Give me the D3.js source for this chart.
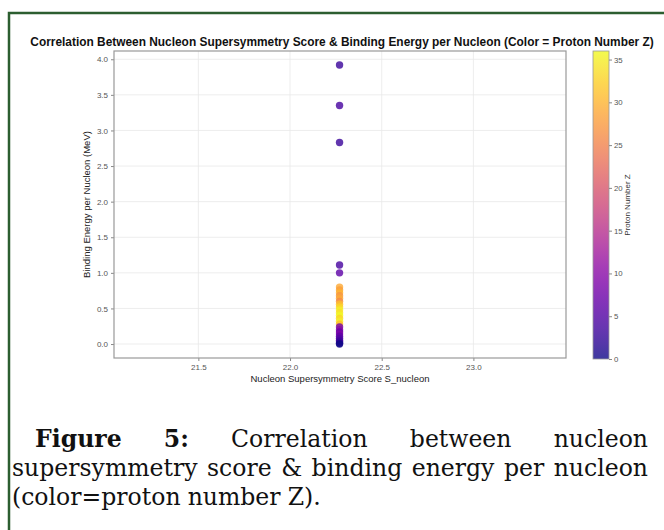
<!DOCTYPE html>
<html>
<head>
<meta charset="utf-8">
<script src="https://cdn.jsdelivr.net/npm/d3@7"></script>
<style>
  body { margin: 0; background: #fff; }
  svg { display: block; }
</style>
</head>
<body>
<div id="chart"></div>
<script>
// Data: one score value, binding energy per nucleon, proton number Z
const score = [22.27, 22.27, 22.27, 22.27, 22.27, 22.27, 22.27, 22.27, 22.27, 22.27,
               22.27, 22.27, 22.27, 22.27, 22.27, 22.27, 22.27, 22.27, 22.27, 22.27,
               22.27, 22.27, 22.27, 22.27, 22.27, 22.27, 22.27, 22.27, 22.27];
const energy = [3.92, 3.35, 2.83, 1.11, 1.00,
                0.80, 0.76, 0.72, 0.68, 0.64, 0.60, 0.56, 0.52, 0.48, 0.44, 0.40, 0.36, 0.32, 0.28,
                0.24, 0.20, 0.17, 0.14, 0.11, 0.08, 0.05, 0.03, 0.01, 0.00];
const protonZ = [3, 4, 3, 4, 6,
                 29, 28, 30, 27, 29, 26, 31, 33, 35, 34, 36, 33, 35, 31,
                 8, 10, 7, 9, 6, 5, 4, 3, 2, 0];
const xTicks = [21.5, 22.0, 22.5, 23.0];
const yTicks = [0, 0.5, 1, 1.5, 2, 2.5, 3, 3.5, 4];
const zTicks = [0, 5, 10, 15, 20, 25, 30, 35];
const captionLines = [
  ["Figure 5:", "Correlation between nucleon"],
  ["", "supersymmetry score & binding energy per nucleon"],
  ["", "(color=proton number Z)."]
];

const width = 664, height = 530;
const plot = { left: 114, right: 566, top: 51, bottom: 358 };
const sans = "Liberation Sans, Arial, sans-serif";
const alpha = 0.8;

const svg = d3.select("#chart").append("svg")
    .attr("width", width)
    .attr("height", height);

// green frame (only top and left edges visible)
svg.append("path")
    .attr("d", "M9,531 L9,13 L665,13")
    .attr("fill", "none")
    .attr("stroke", "#2c5e30")
    .attr("stroke-width", 2.5);

const x = d3.scaleLinear().domain([21.04, 23.505]).range([plot.left, plot.right]);
const y = d3.scaleLinear().domain([-0.196, 4.116]).range([plot.bottom, plot.top]);
const color = d3.scaleSequential(d3.interpolatePlasma).domain([0, 36]);

// title
svg.append("text")
    .attr("x", 342)
    .attr("y", 46)
    .attr("text-anchor", "middle")
    .attr("font-family", sans)
    .attr("font-weight", "bold")
    .attr("font-size", 11.9)
    .attr("fill", "#111")
    .text("Correlation Between Nucleon Supersymmetry Score & Binding Energy per Nucleon (Color = Proton Number Z)");

// grid
const grid = svg.append("g").attr("stroke", "#e9e9e9").attr("stroke-width", 0.8);
grid.selectAll(".gx").data(xTicks).enter().append("line")
    .attr("x1", d => x(d)).attr("x2", d => x(d))
    .attr("y1", plot.top).attr("y2", plot.bottom);
grid.selectAll(".gy").data(yTicks).enter().append("line")
    .attr("x1", plot.left).attr("x2", plot.right)
    .attr("y1", d => y(d)).attr("y2", d => y(d));

// axes
const xAxis = svg.append("g")
    .attr("transform", `translate(0,${plot.bottom})`)
    .call(d3.axisBottom(x).tickValues(xTicks).tickFormat(d3.format(".1f")).tickSize(3).tickPadding(3));
const yAxis = svg.append("g")
    .attr("transform", `translate(${plot.left},0)`)
    .call(d3.axisLeft(y).tickValues(yTicks).tickFormat(d3.format(".1f")).tickSize(3).tickPadding(3));
[xAxis, yAxis].forEach(a => {
  a.select(".domain").remove();
  a.selectAll(".tick line").attr("stroke", "#888");
  a.selectAll(".tick text")
      .attr("font-family", sans)
      .attr("font-size", 8)
      .attr("fill", "#555");
});

// plot border
svg.append("rect")
    .attr("x", plot.left).attr("y", plot.top)
    .attr("width", plot.right - plot.left)
    .attr("height", plot.bottom - plot.top)
    .attr("fill", "none")
    .attr("stroke", "#999")
    .attr("stroke-width", 1.2);

// points
const points = score.map((s, i) => ({ s: s, e: energy[i], z: protonZ[i] }));
svg.append("g").selectAll("circle")
    .data(points)
    .enter()
    .append("circle")
    .attr("cx", d => x(d.s))
    .attr("cy", d => y(d.e))
    .attr("r", 3.7)
    .attr("fill", d => color(d.z))
    .attr("fill-opacity", alpha);

// axis labels
svg.append("text")
    .attr("x", (plot.left + plot.right) / 2)
    .attr("y", 382)
    .attr("text-anchor", "middle")
    .attr("font-family", sans)
    .attr("font-size", 9.5)
    .attr("fill", "#222")
    .text("Nucleon Supersymmetry Score S_nucleon");
svg.append("text")
    .attr("transform", `translate(90,${(plot.top + plot.bottom) / 2}) rotate(-90)`)
    .attr("text-anchor", "middle")
    .attr("font-family", sans)
    .attr("font-size", 9.5)
    .attr("fill", "#222")
    .text("Binding Energy per Nucleon (MeV)");

// colorbar
const cb = { x: 593, w: 16, top: 51, bottom: 359 };
const zScale = d3.scaleLinear().domain([0, 36]).range([cb.bottom, cb.top]);
const defs = svg.append("defs");
const grad = defs.append("linearGradient")
    .attr("id", "cbar")
    .attr("x1", "0").attr("y1", "1").attr("x2", "0").attr("y2", "0");
d3.range(0, 1.0001, 0.05).forEach(t => {
  grad.append("stop").attr("offset", t).attr("stop-color", d3.interpolatePlasma(t));
});
svg.append("rect")
    .attr("x", cb.x).attr("y", cb.top)
    .attr("width", cb.w).attr("height", cb.bottom - cb.top)
    .attr("fill", "url(#cbar)")
    .attr("fill-opacity", alpha);
svg.append("rect")
    .attr("x", cb.x).attr("y", cb.top)
    .attr("width", cb.w).attr("height", cb.bottom - cb.top)
    .attr("fill", "none")
    .attr("stroke", "#999")
    .attr("stroke-width", 0.8);
const zAxis = svg.append("g")
    .attr("transform", `translate(${cb.x + cb.w},0)`)
    .call(d3.axisRight(zScale).tickValues(zTicks).tickSize(3).tickPadding(2));
zAxis.select(".domain").remove();
zAxis.selectAll(".tick line").attr("stroke", "#888");
zAxis.selectAll(".tick text")
    .attr("font-family", sans)
    .attr("font-size", 7.8)
    .attr("fill", "#555");
svg.append("text")
    .attr("transform", `translate(630,${(cb.top + cb.bottom) / 2}) rotate(-90)`)
    .attr("text-anchor", "middle")
    .attr("font-family", sans)
    .attr("font-size", 8)
    .attr("fill", "#333")
    .text("Proton Number Z");

// caption, justified line by line; font size fitted so the second line fills the width
const capFont = "DejaVu Serif, Liberation Serif, serif";
const lineStarts = [35, 12, 12];
const lineBase = [447, 476, 505];
const rightEdge = 648;
const line2 = captionLines[1][1].split(" ");
const probe = svg.append("text")
    .attr("font-family", capFont)
    .attr("font-size", 20)
    .text(line2.join(""));
const wordsAt20 = probe.node().getComputedTextLength();
probe.remove();
// words + 6 gaps of 0.4em = available width
const capSize = (rightEdge - lineStarts[1]) / (wordsAt20 / 20 + (line2.length - 1) * 0.4);
captionLines.forEach((ln, li) => {
  const words = [];
  ln[0].split(" ").filter(w => w).forEach(w => words.push({ t: w, b: true }));
  ln[1].split(" ").filter(w => w).forEach(w => words.push({ t: w, b: false }));
  const nodes = words.map(w => svg.append("text")
      .attr("y", lineBase[li])
      .attr("font-family", capFont)
      .attr("font-size", capSize)
      .attr("font-weight", w.b ? "bold" : "normal")
      .attr("fill", "#111")
      .text(w.t));
  const widths = nodes.map(n => n.node().getComputedTextLength());
  const total = d3.sum(widths);
  const last = li === captionLines.length - 1;
  const gap = last ? capSize * 0.3 : Math.max(3, (rightEdge - lineStarts[li] - total) / (words.length - 1));
  let cx = lineStarts[li];
  nodes.forEach((n, i) => {
    n.attr("x", cx);
    cx += widths[i] + gap;
  });
});
</script>
</body>
</html>
